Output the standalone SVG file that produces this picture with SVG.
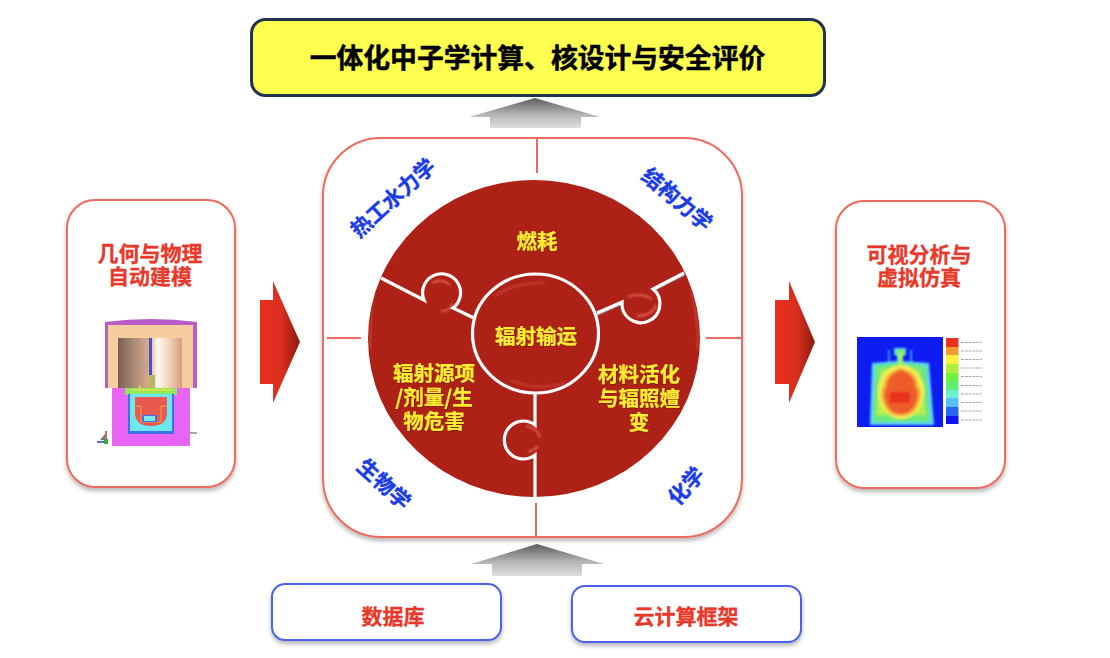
<svg xmlns="http://www.w3.org/2000/svg" width="1110" height="658" viewBox="0 0 1110 658">
<defs>
<filter id="sh" x="-10%" y="-10%" width="120%" height="125%"><feDropShadow dx="0" dy="3" stdDeviation="2.2" flood-color="#000" flood-opacity="0.28"/></filter>
<filter id="soft" x="-10%" y="-10%" width="120%" height="120%"><feGaussianBlur stdDeviation="0.7"/></filter>
<filter id="heat" x="-10%" y="-10%" width="120%" height="120%"><feGaussianBlur stdDeviation="1"/></filter>
<filter id="glow" x="-40%" y="-40%" width="180%" height="180%"><feGaussianBlur stdDeviation="1.2"/></filter>
<filter id="ts" x="-10%" y="-10%" width="120%" height="120%"><feDropShadow dx="0.6" dy="0.6" stdDeviation="0.5" flood-color="#000" flood-opacity="0.35"/></filter>
<clipPath id="disc"><ellipse cx="534" cy="338.500" rx="165" ry="157.500"/></clipPath>
<linearGradient id="gray" x1="0" y1="0" x2="0" y2="1"><stop offset="0" stop-color="#5c5c5c"/><stop offset="0.55" stop-color="#b4b4b4"/><stop offset="1" stop-color="#dedede"/></linearGradient>
<linearGradient id="red" x1="0" y1="0" x2="1" y2="0"><stop offset="0" stop-color="#e8301f"/><stop offset="0.55" stop-color="#d92e1e"/><stop offset="1" stop-color="#8a1a10"/></linearGradient>
<linearGradient id="cyl" x1="0" y1="0" x2="1" y2="0"><stop offset="0" stop-color="#7a5f52"/><stop offset="0.25" stop-color="#a98a74"/><stop offset="0.48" stop-color="#d8aa8c"/><stop offset="0.62" stop-color="#fff8f0"/><stop offset="0.78" stop-color="#f3d8c0"/><stop offset="1" stop-color="#d79a78"/></linearGradient>
<style>
.t{font-family:"Noto Sans CJK SC","Noto Sans",sans-serif;font-weight:700;text-anchor:middle;dominant-baseline:central}
.r{fill:#e8382a;stroke:#e8382a;stroke-width:.3px;font-size:21px}
.y{fill:#ffee33;stroke:#ffee33;stroke-width:.2px;font-size:20.5px}
.b{fill:#1a3ce6;stroke:#1a3ce6;stroke-width:.4px;font-size:21px}
.card{fill:#fff;stroke:#ee6a5e;stroke-width:2;filter:url(#sh)}
.base{fill:#fff;stroke:#4a62f0;stroke-width:2;filter:url(#sh)}
.tick{stroke:#ee6a5e;stroke-width:2;fill:none}
.gap{stroke:#fff;stroke-width:3.2;fill:none;stroke-linejoin:miter}
.hl{stroke:#dc5a50;stroke-width:2.2;fill:none;filter:url(#glow)}
</style>
</defs>

<g id="title">
<rect x="251.500" y="19.500" width="573" height="76" rx="14" fill="#ffff50" stroke="#20334f" stroke-width="3"/>
<text class="t" x="537.500" y="56.500" fill="#000" stroke="#000" stroke-width=".5" font-size="26.800">一体化中子学计算、核设计与安全评价</text>
</g>

<g id="connectors">
<path d="M535,98 L600,117 L581,117 L581,128 L490,128 L490,117 L469,117 Z" fill="url(#gray)"/>
<path d="M537,544 L604,564 L582,564 L582,576 L492,576 L492,564 L471,564 Z" fill="url(#gray)"/>
<path d="M260,300 L273,300 L273,281 L300,342 L273,403 L273,384 L260,384 Z" fill="url(#red)"/>
<path d="M775,300 L789,300 L789,281 L815,342 L789,403 L789,384 L775,384 Z" fill="url(#red)"/>
</g>

<g id="geometry-node">
<rect class="card" x="67" y="200" width="168" height="287" rx="28"/>
<text class="t r" x="150" y="252">几何与物理<tspan x="150" dy="23">自动建模</tspan></text>
<g filter="url(#soft)">
<path d="M105,322 Q151,316 197,322 L197,388 L105,388 Z" fill="#b85cc8"/>
<rect x="108" y="325" width="85" height="63" fill="#f6cd9c"/>
<rect x="118" y="338" width="64" height="50" fill="url(#cyl)"/>
<rect x="149" y="338" width="3" height="42" fill="#4a4fc8"/>
<path d="M133,366 H150" stroke="#999" stroke-width="0.800" fill="none"/>
<rect x="149" y="375" width="6" height="13" fill="#b9b860"/>
<rect x="112" y="388" width="78" height="58" fill="#e765f2"/>
<rect x="125" y="388" width="52" height="7" fill="#90e860"/>
<path d="M128,394 H174 V434 H128 Z" fill="#3f6fe8"/>
<path d="M130,394 H172 V431 H130 Z" fill="#6ee8ee"/>
<path d="M135,397 H167 V414 Q166,426 151,426 Q136,426 135,414 Z" fill="#e85a50"/>
<path d="M135,406 H141 V422 H161 V406 H167" stroke="#f2a040" stroke-width="1" fill="none"/>
<rect x="142" y="415" width="15" height="7" fill="#3f6fe8"/>
<rect x="144" y="416" width="11" height="5" fill="#80eaf2"/>
<path d="M139,386 L141,390 M165,386 L163,390 M132,390 H172" stroke="#e8e040" stroke-width="1.500" fill="none"/>
<path d="M190,433 H197" stroke="#8a8a8a" stroke-width="1.500" fill="none"/>
<path d="M97,442 L106,442" stroke="#2040d0" stroke-width="1.500"/>
<path d="M106,442 L106,431" stroke="#b04030" stroke-width="1.500"/>
<rect x="104" y="439" width="4" height="5" fill="#30b040"/>
<path d="M100,440 L105,434 L105,440 Z" fill="#777"/>
</g>
</g>

<g id="solver-node">
<rect class="card" x="323" y="138" width="419" height="399" rx="58"/>
<path class="tick" d="M537,139 V173 M327,338 H361 M706,338 H741 M536,503 V536"/>
<ellipse cx="534" cy="338.500" rx="166" ry="158.500" fill="#ae2116"/>
<g id="pieces">
<g clip-path="url(#disc)">
<path class="hl" d="M432,283 Q442,278 450,285 M441,311 Q450,312 453,303"/>
<path class="hl" d="M628,297 Q640,292 652,299 M636,316 Q652,316 656,305"/>
<path class="hl" d="M526,426 Q538,428 540,438 M528,452 Q535,450 538,446"/>
<path class="hl" d="M374,290 Q369,320 370,350 M691,288 Q699,320 698,350" opacity=".6"/>
</g>
<path d="M597,315 L622,304 M653,291 L684,275" stroke="#9a9a9a" stroke-width="1.500" fill="none"/>
<path class="gap" d="M381,278 L424,300 A19,19 0 1 1 453,308 L476,319"/>
<path class="gap" d="M684,273 L653,289 A19,19 0 1 1 622,302 L597,313"/>
<path class="gap" d="M535,393 L535,425 A19,19 0 1 0 535,455 L535,498"/>
<ellipse cx="535.500" cy="333.500" rx="63" ry="59.500" fill="#ae2116" stroke="#fff" stroke-width="3.200"/>
<path class="hl" d="M495,296 Q515,282 545,283 M512,381 Q535,391 565,383" opacity=".5"/>
</g>
<text class="t y" x="537" y="240" filter="url(#ts)">燃耗</text>
<text class="t y" x="536" y="335" filter="url(#ts)">辐射输运</text>
<text class="t y" x="434" y="372" filter="url(#ts)">辐射源项<tspan x="434" dy="24">/剂量/生</tspan><tspan x="434" dy="24">物危害</tspan></text>
<text class="t y" x="639" y="373" filter="url(#ts)">材料活化<tspan x="639" dy="24">与辐照嬗</tspan><tspan x="639" dy="24">变</tspan></text>
<text class="t b" transform="translate(392,197) rotate(-42)" x="0" y="0">热工水力学</text>
<text class="t b" transform="translate(678,198) rotate(40)" x="0" y="0">结构力学</text>
<text class="t b" transform="translate(385,483) rotate(42)" x="0" y="0">生物学</text>
<text class="t b" transform="translate(685,485) rotate(-48)" x="0" y="0">化学</text>
</g>

<g id="visual-node">
<rect class="card" x="836" y="201" width="169" height="287" rx="28"/>
<text class="t r" x="919" y="253">可视分析与<tspan x="919" dy="23">虚拟仿真</tspan></text>
<rect x="857" y="337" width="86" height="90" fill="#0a1cf0" filter="url(#soft)"/>
<g filter="url(#heat)">
<path d="M888,350 H890 V362 H888 Z M910,350 H912 V362 H910 Z" fill="#3a90f4"/>
<path d="M894,348 H906 V355 H903 V361 L929,363 L934,425 L870,425 L872,363 L897,361 V355 H894 Z" fill="#5ad4f0"/>
<path d="M896,349 H905 V356 H903 V363 L926,366 L930,422 L873,422 L875,366 L898,363 V356 H896 Z" fill="#6ee87a"/>
<path d="M899,352 H902 V366 L919,370 L926,415 L876,415 L881,370 L899,366 Z" fill="#b4ee50"/>
<ellipse cx="901" cy="392" rx="23.500" ry="27" fill="#eeee50"/>
<path d="M901,368 Q917,372 918,385 Q923,393 919,402 Q915,416 901,416 Q887,416 883,402 Q879,393 884,385 Q885,372 901,368 Z" fill="#f4a838"/>
<path d="M901,370 Q915,375 915,387 Q920,394 916,402 Q912,414 901,414 Q890,414 886,402 Q882,394 887,387 Q887,375 901,370 Z" fill="#ee5c2c"/>
<rect x="890" y="392" width="20" height="11" fill="#e8301e"/>
</g>
<g filter="url(#soft)">
<rect x="946" y="338" width="12.500" height="9" fill="#e8301e"/>
<rect x="946" y="347" width="12.500" height="8" fill="#f09a30"/>
<rect x="946" y="355" width="12.500" height="9" fill="#fff040"/>
<rect x="946" y="364" width="12.500" height="9" fill="#b0ee40"/>
<rect x="946" y="373" width="12.500" height="8" fill="#70f040"/>
<rect x="946" y="381" width="12.500" height="9" fill="#60ee70"/>
<rect x="946" y="390" width="12.500" height="8" fill="#6af0d0"/>
<rect x="946" y="398" width="12.500" height="9" fill="#58c0f8"/>
<rect x="946" y="407" width="12.500" height="9" fill="#2868f4"/>
<rect x="946" y="416" width="12.500" height="8" fill="#0818f0"/>
<path d="M961,342.500 H982 M961,351 H982 M961,359.500 H982 M961,368 H982 M961,376.500 H982 M961,385.500 H982 M961,394 H982 M961,402.500 H982 M961,411 H982 M961,420 H982" stroke="#aaa" stroke-width="1.200" fill="none" stroke-dasharray="3 0.800"/>
</g>
</g>

<g id="database-node">
<rect class="base" x="272" y="584" width="229" height="56" rx="13"/>
<text class="t r" x="393" y="614.500">数据库</text>
</g>

<g id="cloud-node">
<rect class="base" x="572" y="586" width="229" height="56" rx="13"/>
<text class="t r" x="686" y="614.500">云计算框架</text>
</g>
</svg>
